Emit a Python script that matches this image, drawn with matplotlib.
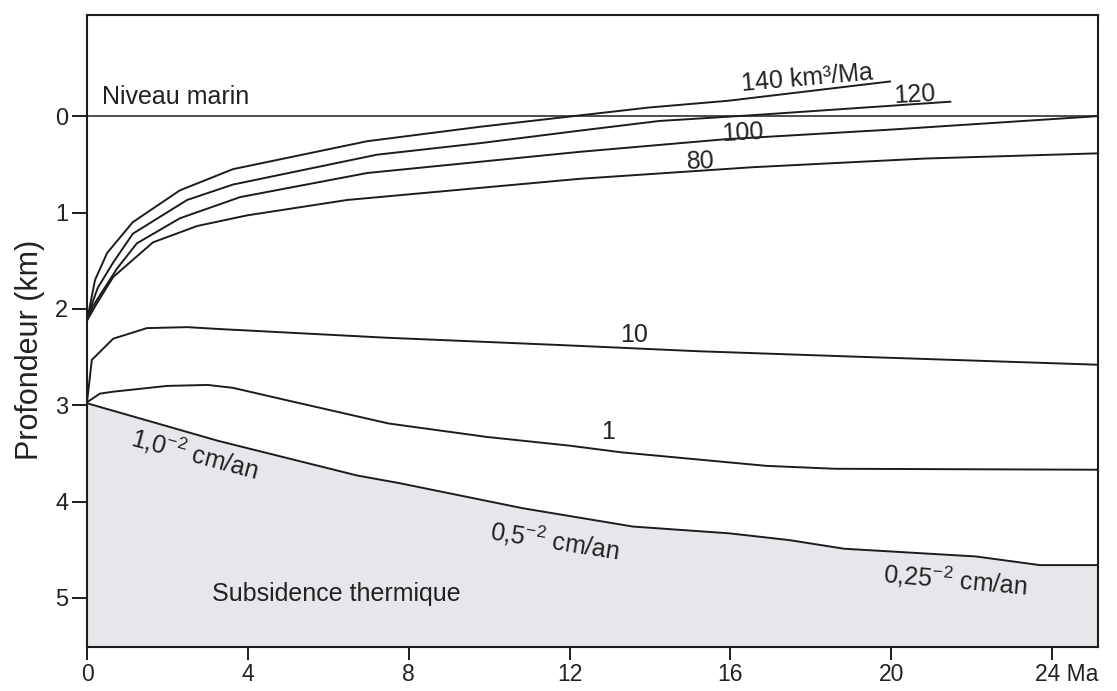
import matplotlib
matplotlib.use("Agg")
import matplotlib.pyplot as plt
from matplotlib.transforms import ScaledTranslation

plt.rcParams['font.family'] = ['Liberation Sans', 'DejaVu Sans']
plt.rcParams['mathtext.fontset'] = 'custom'
plt.rcParams['mathtext.rm'] = 'Liberation Sans'
plt.rcParams['mathtext.it'] = 'Liberation Sans:italic'

# --- Data (time in Ma, depth in km) ---
t140 = [0, 0.2, 0.5, 1.14, 2.31, 3.63, 6.97, 9.78, 12.09, 13.98, 15.95, 19.97]
d140 = [2.12, 1.70, 1.42, 1.10, 0.77, 0.55, 0.26, 0.11, 0.0, -0.09, -0.16, -0.36]

t120 = [0, 0.07, 0.27, 0.65, 1.14, 2.49, 3.63, 7.21, 9.78, 12.26, 14.23, 16.55, 21.47]
d120 = [2.12, 2.01, 1.78, 1.52, 1.22, 0.87, 0.71, 0.40, 0.28, 0.15, 0.05, -0.01, -0.15]

t100 = [0, 0.15, 0.75, 1.24, 2.31, 3.81, 6.97, 12.26, 15.86, 19.97, 25.13]
d100 = [2.12, 1.97, 1.58, 1.32, 1.06, 0.84, 0.59, 0.37, 0.24, 0.14, 0.0]

t80 = [0, 0.25, 0.65, 1.64, 2.74, 3.98, 6.47, 12.26, 16.55, 20.83, 25.13]
d80 = [2.12, 1.94, 1.67, 1.31, 1.14, 1.03, 0.87, 0.65, 0.53, 0.44, 0.386]

t10 = [0, 0.12, 0.65, 1.49, 2.49, 3.31, 7.46, 12.0, 15.2, 18.66, 25.13]
d10 = [2.97, 2.53, 2.31, 2.20, 2.19, 2.21, 2.30, 2.38, 2.44, 2.49, 2.58]

t1 = [0, 0.32, 0.65, 1.99, 3.0, 3.63, 4.98, 7.5, 9.95, 12.0, 13.3, 16.9, 18.6, 25.13]
d1 = [2.97, 2.88, 2.86, 2.80, 2.79, 2.82, 2.95, 3.19, 3.33, 3.42, 3.49, 3.63, 3.66, 3.67]

t_th = [0, 3.26, 6.72, 7.78, 10.84, 13.58, 15.97, 17.46, 18.83, 22.1, 23.7, 25.13]
d_th = [2.98, 3.37, 3.73, 3.81, 4.07, 4.26, 4.33, 4.40, 4.49, 4.57, 4.66, 4.66]

sea_level = 0.0
x_ticks = [0, 4, 8, 12, 16, 20, 24]
x_ticklabels = ['0', '4', '8', '12', '16', '20', '24 Ma']
y_ticks = [0, 1, 2, 3, 4, 5]
y_ticklabels = ['0', '1', '2', '3', '4', '5']

XMAX = 25.13
YTOP, YBOT = -1.05, 5.51

LC = '#1c1c1c'
TC = '#222222'

fig = plt.figure(figsize=(11.17, 6.91), dpi=100)
ax = fig.add_axes([87/1117, 1 - 647/691, (1097.5 - 87)/1117, (647 - 15)/691])

ax.fill_between(t_th, d_th, YBOT, color='#e6e7ea', lw=0, zorder=1)
ax.axhline(sea_level, color=LC, lw=1.1, zorder=2)
for t, d in [(t140, d140), (t120, d120), (t100, d100), (t80, d80), (t10, d10), (t1, d1), (t_th, d_th)]:
    ax.plot(t, d, color=LC, lw=1.4, zorder=3, solid_joinstyle='miter')

ax.set_xlim(0, XMAX)
ax.set_ylim(YBOT, YTOP)
ax.set_xticks(x_ticks)
ax.set_xticklabels(x_ticklabels)
ax.set_yticks(y_ticks)
ax.set_yticklabels(y_ticklabels)
ax.tick_params(axis='x', direction='out', length=9.5, width=1.4, pad=2, labelsize=16.5, colors=LC, labelcolor=TC)
ax.tick_params(axis='y', direction='out', length=10.5, width=1.4, pad=3, labelsize=17, colors=LC, labelcolor=TC)
for s in ax.spines.values():
    s.set_linewidth(1.5)
    s.set_color(LC)

# shift the last label so that "24" sits under its tick
last = ax.get_xticklabels()[-1]
last.set_transform(last.get_transform() + ScaledTranslation(15/100, 0, fig.dpi_scale_trans))

fig.text(30/1117, 1 - 350/691, 'Profondeur (km)', rotation=90, ha='center', va='center', fontsize=22, color=TC)

fs = 18
ax.text(0.37, -0.2, 'Niveau marin', ha='left', va='center', fontsize=fs, color=TC)
ax.text(17.9, -0.39, '140 km³/Ma', ha='center', va='center', fontsize=fs, color=TC, rotation=5)
ax.text(20.57, -0.22, '120', ha='center', va='center', fontsize=fs, color=TC, rotation=3)
ax.text(16.3, 0.17, '100', ha='center', va='center', fontsize=fs, color=TC, rotation=3)
ax.text(15.25, 0.47, '80', ha='center', va='center', fontsize=fs, color=TC, rotation=2)
ax.text(13.6, 2.27, '10', ha='center', va='center', fontsize=fs, color=TC)
ax.text(12.95, 3.28, '1', ha='center', va='center', fontsize=fs, color=TC)
ax.text(2.7, 3.50, r'1,0$^{\mathrm{-2}}$ cm/an', ha='center', va='center', fontsize=fs, color=TC, rotation=-15)
ax.text(11.64, 4.41, r'0,5$^{\mathrm{-2}}$ cm/an', ha='center', va='center', fontsize=fs, color=TC, rotation=-9)
ax.text(21.6, 4.81, r'0,25$^{\mathrm{-2}}$ cm/an', ha='center', va='center', fontsize=fs, color=TC, rotation=-5)
ax.text(6.2, 4.96, 'Subsidence thermique', ha='center', va='center', fontsize=fs, color=TC)

fig.savefig('out.png', dpi=100)
